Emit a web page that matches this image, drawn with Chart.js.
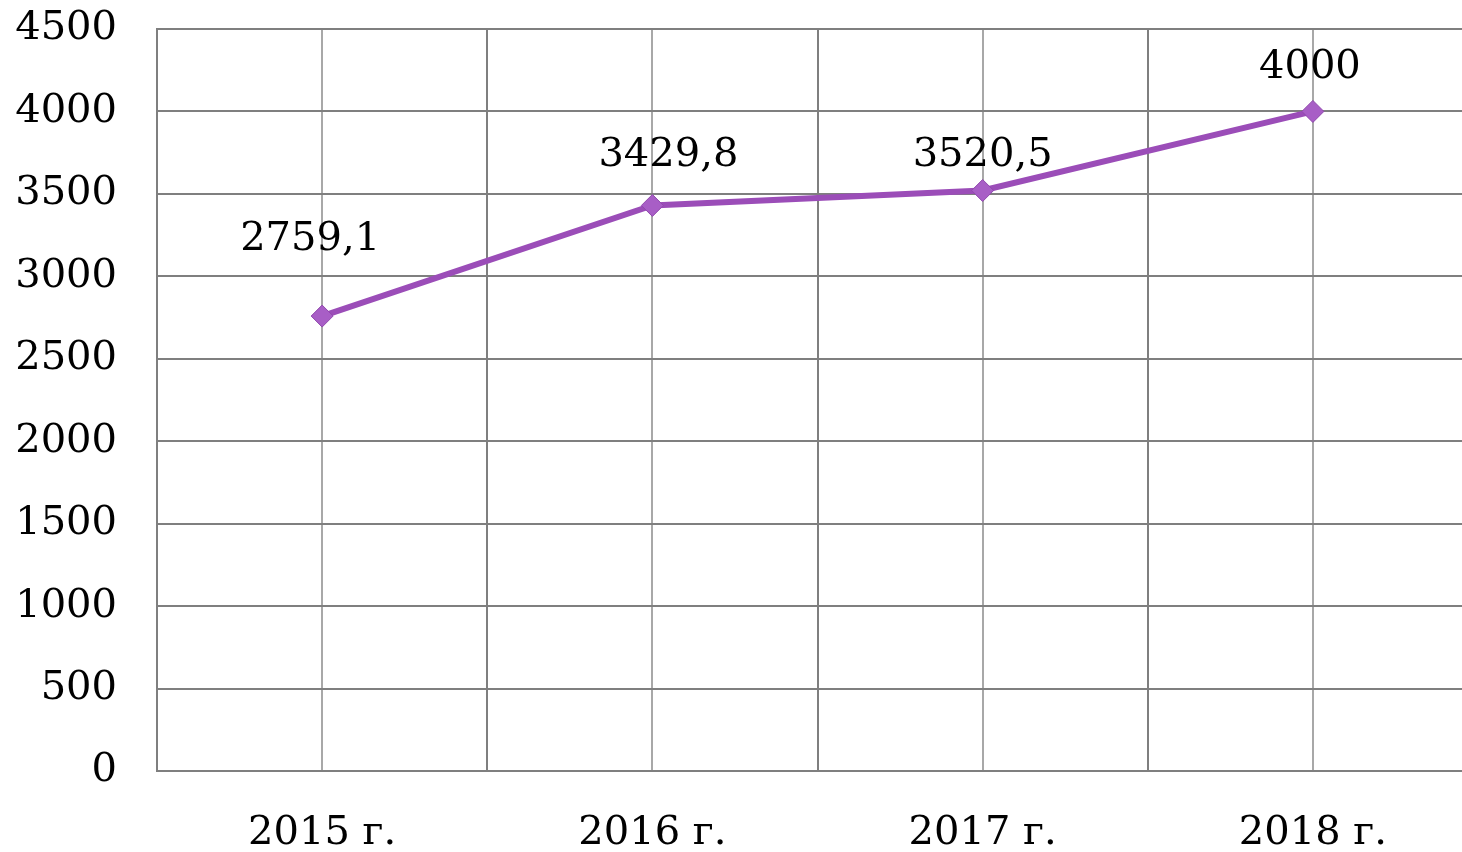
<!DOCTYPE html>
<html>
<head>
<meta charset="utf-8">
<script src="https://cdn.jsdelivr.net/npm/chart.js@4.4.0/dist/chart.umd.min.js"></script>
<style>
  html, body { margin: 0; padding: 0; background: #fff; overflow: hidden; }
  #wrap { width: 1462px; height: 852px; overflow: hidden; }
</style>
</head>
<body>
<div id="wrap"><canvas id="lineChart" width="1478" height="852"></canvas></div>
<script>
// Chart data
const categories = ['2015 г.', '2016 г.', '2017 г.', '2018 г.'];
const values = [2759.1, 3429.8, 3520.5, 4000];
const valueLabels = ['2759,1', '3429,8', '3520,5', '4000'];
const yTicks = [0, 500, 1000, 1500, 2000, 2500, 3000, 3500, 4000, 4500];

// label nudges (px) relative to each point
const labelShift = [[-12, -76], [16, -50], [0, -35], [-3, -44]];

const FONT = '"DejaVu Serif", "Liberation Serif", serif';

// Draw value labels over the points
const valueLabelPlugin = {
    id: 'valueLabels',
    afterDatasetsDraw(chart) {
        const ctx = chart.ctx;
        const meta = chart.getDatasetMeta(0);
        ctx.save();
        ctx.font = '40px ' + FONT;
        ctx.fillStyle = '#000';
        ctx.textAlign = 'center';
        ctx.textBaseline = 'middle';
        meta.data.forEach((pt, i) => {
            ctx.fillText(valueLabels[i], pt.x + labelShift[i][0], pt.y + labelShift[i][1]);
        });
        ctx.restore();
    }
};

const ctx = document.getElementById('lineChart');
new Chart(ctx, {
    type: 'line',
    data: {
        datasets: [{
            data: values.map((v, i) => ({ x: i, y: v })),
            borderColor: '#9b4db8',
            borderWidth: 6,
            pointStyle: 'rectRot',
            pointRadius: 11,
            pointBackgroundColor: '#a85ec6',
            pointBorderColor: '#9048ad',
            pointBorderWidth: 1,
            tension: 0
        }]
    },
    options: {
        responsive: false,
        animation: false,
        layout: { autoPadding: false, padding: { top: 29, right: 0, left: 0, bottom: 0 } },
        plugins: {
            legend: { display: false },
            tooltip: { enabled: false }
        },
        scales: {
            x: {
                type: 'linear',
                min: -0.5,
                max: categories.length - 0.5,
                afterBuildTicks(scale) {
                    const t = [];
                    for (let v = -0.5; v <= categories.length - 0.5; v += 0.5) t.push({ value: v });
                    scale.ticks = t;
                },
                afterFit(scale) {
                    scale.height = 81;
                    scale.paddingLeft = 0;
                    scale.paddingRight = 0;
                },
                grid: {
                    drawTicks: false,
                    lineWidth: 2,
                    color: (c) => (c.tick && Number.isInteger(c.tick.value)) ? '#a8a8a8' : '#7f7f7f'
                },
                border: { color: '#7f7f7f', width: 2 },
                ticks: {
                    autoSkip: false,
                    maxRotation: 0,
                    padding: 39,
                    color: '#000',
                    font: { family: FONT, size: 40 },
                    callback: (v) => Number.isInteger(v) ? categories[v] : ''
                }
            },
            y: {
                min: 0,
                max: 4500,
                afterBuildTicks(scale) {
                    scale.ticks = yTicks.map(v => ({ value: v }));
                },
                afterFit(scale) {
                    scale.width = 157;
                    scale.paddingTop = 0;
                    scale.paddingBottom = 0;
                },
                grid: {
                    drawTicks: false,
                    lineWidth: 2,
                    color: '#7f7f7f'
                },
                border: { color: '#7f7f7f', width: 2 },
                ticks: {
                    padding: 40,
                    color: '#000',
                    font: { family: FONT, size: 40 },
                    callback: (v) => String(v)
                }
            }
        }
    },
    plugins: [valueLabelPlugin]
});
</script>
</body>
</html>
